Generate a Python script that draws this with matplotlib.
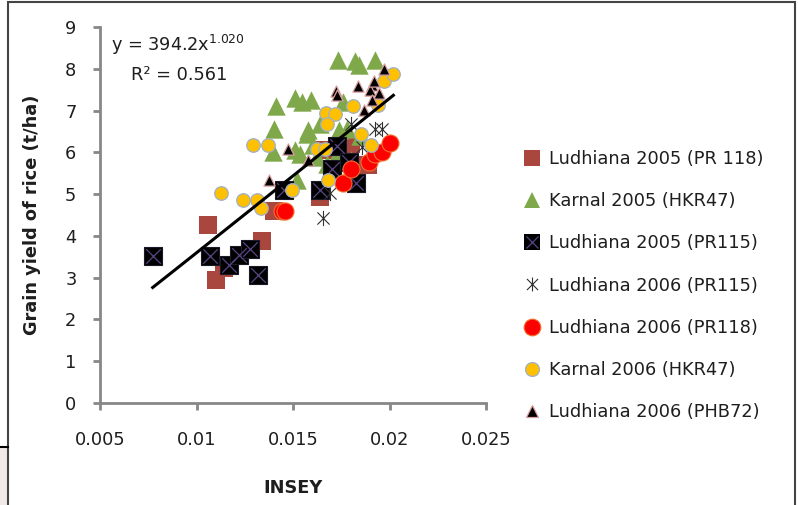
import matplotlib
matplotlib.use("Agg")
import matplotlib.pyplot as plt
import numpy as np
from matplotlib.path import Path
from matplotlib.lines import Line2D
from matplotlib.legend_handler import HandlerTuple
from matplotlib.patches import Rectangle

plt.rcParams['font.family'] = ['DejaVu Sans']
plt.rcParams['mathtext.fontset'] = 'dejavusans'

# ---- data ----
l05_pr118_x = [0.0106, 0.0110, 0.0114, 0.0134, 0.0140, 0.0164, 0.0166, 0.0180, 0.0189]
l05_pr118_y = [4.26, 2.94, 3.23, 3.88, 4.60, 4.92, 6.05, 6.21, 5.69]

k05_x = [0.01731, 0.01821, 0.01844, 0.01925,
         0.0141, 0.0151, 0.01545, 0.01593, 0.0176,
         0.01403, 0.01579, 0.01571, 0.0174, 0.0164, 0.01778,
         0.01398, 0.01536, 0.0151, 0.01605, 0.01622, 0.01726, 0.01847,
         0.01519, 0.01674, 0.0180]
k05_y = [8.22, 8.19, 8.09, 8.22,
         7.11, 7.29, 7.21, 7.26, 7.20,
         6.55, 6.53, 6.45, 6.53, 6.69, 6.57,
         6.00, 5.97, 6.05, 6.17, 5.90, 5.97, 6.38,
         5.33, 5.73, 5.81]

l05_pr115_x = [0.00773, 0.0107, 0.0117, 0.01222, 0.01277, 0.0132, 0.01453, 0.0164, 0.0170, 0.01726, 0.01792, 0.01826]
l05_pr115_y = [3.52, 3.52, 3.30, 3.54, 3.68, 3.06, 5.10, 5.10, 5.61, 6.15, 5.77, 5.26]

l06_pr115_x = [0.01654, 0.0169, 0.0180, 0.01925, 0.0196, 0.0186]
l06_pr115_y = [4.42, 5.02, 6.69, 6.57, 6.57, 6.13]

l06_pr118_x = [0.01445, 0.0146, 0.0176, 0.0180, 0.01895, 0.01925, 0.0196, 0.0200]
l06_pr118_y = [4.60, 4.60, 5.26, 5.61, 5.78, 5.97, 6.01, 6.23]

k06_x = [0.01125, 0.01239, 0.01312, 0.01334, 0.01294, 0.01372, 0.01497, 0.01626, 0.01666,
         0.01671, 0.01718, 0.01678, 0.01809, 0.01852, 0.01904, 0.01683, 0.01973, 0.0202, 0.01942]
k06_y = [5.02, 4.86, 4.86, 4.66, 6.17, 6.17, 5.11, 6.09, 6.09,
         6.93, 6.91, 6.67, 7.11, 6.44, 6.17, 5.33, 7.71, 7.87, 7.13]

l06_phb72_x = [0.01973, 0.01838, 0.01723, 0.01726, 0.01907, 0.0190, 0.01947, 0.01907, 0.01868,
               0.01476, 0.01576, 0.01377, 0.0192]
l06_phb72_y = [8.00, 7.58, 7.46, 7.37, 7.61, 7.49, 7.41, 7.25, 7.01,
               6.07, 5.81, 5.33, 7.70]

labels = ["Ludhiana 2005 (PR 118)", "Karnal 2005 (HKR47)", "Ludhiana 2005 (PR115)",
          "Ludhiana 2006 (PR115)", "Ludhiana 2006 (PR118)", "Karnal 2006 (HKR47)",
          "Ludhiana 2006 (PHB72)"]

fit_a = 394.2
fit_b = 1.020

x_ticks = [0.005, 0.01, 0.015, 0.02, 0.025]
x_tick_labels = ["0.005", "0.01", "0.015", "0.02", "0.025"]
y_ticks = list(range(0, 10))

# ---- figure ----
fig = plt.figure(figsize=(7.98, 5.05), dpi=100)
ax = fig.add_axes([100/798, 1-403/505, 386/798, 376/505])

# asterisk marker: vertical line + X
star = Path([(0, -1), (0, 1), (-0.8, -0.8), (0.8, 0.8), (-0.8, 0.8), (0.8, -0.8)],
            [Path.MOVETO, Path.LINETO, Path.MOVETO, Path.LINETO, Path.MOVETO, Path.LINETO])

c_brown = '#A9473F'
c_green = '#7FA84A'
c_purple = '#5A4585'
c_red = '#FF0000'
c_orange = '#FFC000'
txt = '#1e1e1e'
FS = 12.8

ax.scatter(l05_pr118_x, l05_pr118_y, marker='s', s=150, color=c_brown, linewidths=0, zorder=2)
ax.scatter(k05_x, k05_y, marker='^', s=175, color=c_green, linewidths=0, zorder=3)
ax.scatter(l05_pr115_x, l05_pr115_y, marker='s', s=150, color='black', edgecolors='#1a1a2a', linewidths=0.8, zorder=4)
ax.scatter(l05_pr115_x, l05_pr115_y, marker='x', s=110, color=c_purple, linewidths=0.9, zorder=4)
ax.scatter(l06_pr115_x, l06_pr115_y, marker=star, s=120, color='#303030', linewidths=0.8, zorder=5)
ax.scatter(l06_pr118_x, l06_pr118_y, marker='o', s=150, color=c_red, edgecolors='#F07030', linewidths=0.8, zorder=6)
ax.scatter(k06_x, k06_y, marker='o', s=95, color=c_orange, edgecolors='#9FB0C8', linewidths=0.9, zorder=7)
ax.scatter(l06_phb72_x, l06_phb72_y, marker='^', s=65, color='black', edgecolors='#D9A0A0', linewidths=0.9, zorder=8)

all_x = np.concatenate([l05_pr118_x, k05_x, l05_pr115_x, l06_pr115_x, l06_pr118_x, k06_x, l06_phb72_x])
xf = np.linspace(all_x.min(), all_x.max(), 100)
ax.plot(xf, fit_a * xf ** fit_b, color='black', lw=2.2, zorder=9)

ax.text(0.00558, 8.42, r"y = 394.2x$^{\mathregular{1.020}}$", fontsize=FS, color=txt)
ax.text(0.00663, 7.72, "R² = 0.561", fontsize=FS, color=txt)

ax.set_xlim(0.005, 0.025)
ax.set_ylim(0, 9)
ax.set_xticks(x_ticks)
ax.set_xticklabels(x_tick_labels)
ax.set_yticks(y_ticks)
for s in ['top', 'right']:
    ax.spines[s].set_visible(False)
for s in ['left', 'bottom']:
    ax.spines[s].set_color('#878787')
    ax.spines[s].set_linewidth(2)
ax.tick_params(axis='both', colors='#878787', width=2, length=5, labelsize=FS, labelcolor=txt)
ax.tick_params(axis='x', pad=15)
ax.tick_params(axis='y', pad=12)
ax.set_xlabel("INSEY", fontsize=FS, fontweight='bold', labelpad=22, color=txt)
ax.set_ylabel("Grain yield of rice (t/ha)", fontsize=FS, fontweight='bold', labelpad=17, color=txt)

# legend
handles = [
    Line2D([], [], marker='s', ls='', ms=11, color=c_brown, mew=0),
    Line2D([], [], marker='^', ls='', ms=12, color=c_green, mew=0),
    (Line2D([], [], marker='s', ls='', ms=11, color='black', mew=0),
     Line2D([], [], marker='x', ls='', ms=9, color=c_purple, mew=0.9)),
    Line2D([], [], marker=star, ls='', ms=10, color='#303030', mew=0.8),
    Line2D([], [], marker='o', ls='', ms=12, color=c_red, mec='#F07030', mew=0.8),
    Line2D([], [], marker='o', ls='', ms=10, color=c_orange, mec='#9FB0C8', mew=0.9),
    Line2D([], [], marker='^', ls='', ms=8, color='black', mec='#D9A0A0', mew=0.9),
]
fig.legend(handles, labels, loc='upper left', bbox_to_anchor=(517/798, 1-143/505),
           frameon=False, fontsize=FS, labelspacing=1.36, handlelength=0.9, handletextpad=0.5,
           borderaxespad=0, labelcolor=txt,
           handler_map={tuple: HandlerTuple(ndivide=1, pad=0)})

# outer frame and the small edge detail at the bottom left
fig.patches.append(Rectangle((0, 0), 8/798, 58/505, transform=fig.transFigure,
                             facecolor='#F1E8E8', edgecolor='none', zorder=0))
fig.add_artist(Line2D([0, 8/798], [1-447/505, 1-447/505], transform=fig.transFigure,
                      color='black', lw=1.5))
fig.patches.append(Rectangle((8/798, -0.05), (795-8)/798, 1.05 - 1.5/505, transform=fig.transFigure,
                             fill=False, edgecolor='#444444', lw=1.5))

fig.savefig("out.png", dpi=100)
